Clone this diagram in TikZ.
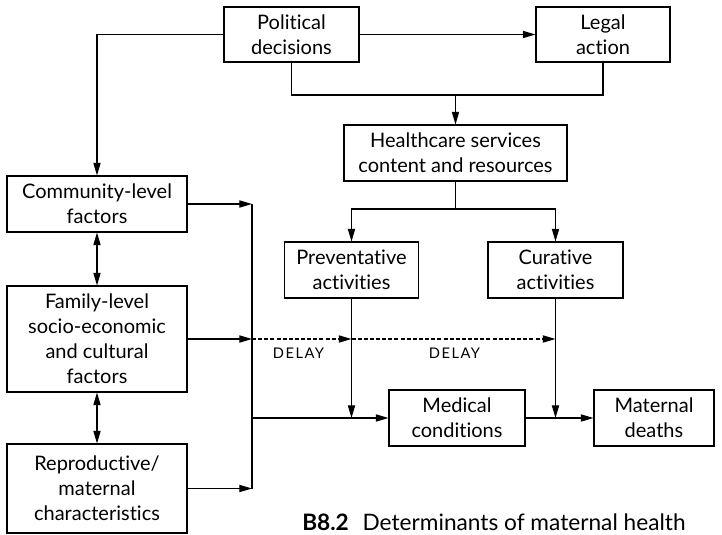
\documentclass[tikz,border=0pt]{standalone}
\usepackage{fontspec}
\setmainfont{Lato}[Ligatures=NoCommon,RawFeature={-liga}]
\usetikzlibrary{arrows.meta,calc}
\begin{document}
\begin{tikzpicture}[x=0.75pt,y=-0.75pt,
  boxnode/.style={draw,line width=0.8pt,inner sep=0pt,align=center,
    font=\fontsize{15}{18.75}\selectfont},
  arr/.style={-{Triangle[length=9.5pt,width=5.4pt]}},
  dbl/.style={{Triangle[length=9.5pt,width=5.4pt]}-{Triangle[length=9.5pt,width=5.4pt]}},
  conn/.style={line width=0.85pt},
  dashline/.style={dash pattern=on 3pt off 1.6pt},
  delaylabel/.style={font=\fontsize{11}{12}\selectfont\addfontfeatures{LetterSpace=10}}]
\useasboundingbox (0,0) rectangle (722,535);
% boxes
\node[boxnode,minimum width={135*0.75pt},minimum height={55*0.75pt}] (pol) at (291.5,34.5) {Political\\decisions};
\node[boxnode,minimum width={134*0.75pt},minimum height={55*0.75pt}] (legal) at (603,34.5) {Legal\\action};
\node[boxnode,minimum width={223*0.75pt},minimum height={56*0.75pt}] (health) at (455.5,153) {Healthcare services\\content and resources};
\node[boxnode,minimum width={134*0.75pt},minimum height={56*0.75pt}] (prev) at (351.5,270) {Preventative\\activities};
\node[boxnode,minimum width={135*0.75pt},minimum height={56*0.75pt}] (cur) at (555.5,270) {Curative\\activities};
\node[boxnode,minimum width={180*0.75pt},minimum height={56*0.75pt}] (comm) at (97,204) {Community-level\\factors};
\node[boxnode,minimum width={180*0.75pt},minimum height={106*0.75pt}] (fam) at (97,339) {Family-level\\socio-economic\\and cultural\\factors};
\node[boxnode,minimum width={180*0.75pt},minimum height={89*0.75pt}] (repro) at (97,488.5) {Reproductive/\\maternal\\characteristics};
\node[boxnode,minimum width={136*0.75pt},minimum height={56*0.75pt}] (med) at (457,418) {Medical\\conditions};
\node[boxnode,minimum width={120*0.75pt},minimum height={56*0.75pt}] (mat) at (654,418) {Maternal\\deaths};
% junction coordinates
\coordinate (jt) at (455.5,95);
\coordinate (jh) at (455.5,209);
\coordinate (ctop) at (252,204);
\coordinate (cfam) at (252,339);
\coordinate (cbot) at (252,488.5);
\coordinate (cmed) at (252,418);
\coordinate (dprev) at (prev.south |- cfam);
\coordinate (dcur) at (cur.south |- cfam);
\coordinate (mprev) at (prev.south |- med.west);
\coordinate (mcur) at (cur.south |- med.west);
% connectors
\draw[conn,arr] (pol.west) -| (comm.north);
\draw[conn,arr] (pol.east) -- (legal.west);
\draw[conn] (pol.south) |- (jt) -| (legal.south);
\draw[conn,arr] (jt) -- (health.north);
\draw[conn] (health.south) -- (jh);
\draw[conn,arr] (jh) -| (prev.north);
\draw[conn,arr] (jh) -| (cur.north);
\draw[conn] (ctop) -- (cbot);
\draw[conn,arr] (comm.east) -- (ctop);
\draw[conn,arr] (fam.east) -- (cfam);
\draw[conn,arr] (repro.east) -- (cbot);
\draw[conn,arr] (cmed) -- (med.west);
\draw[conn,dashline,arr] (cfam) -- (dprev);
\draw[conn,dashline,arr] (dprev) -- (dcur);
\draw[conn,arr] (prev.south) -- (mprev);
\draw[conn,arr] (cur.south) -- (mcur);
\draw[conn,arr] (med.east) -- (mat.west);
\draw[conn,dbl] (comm.south) -- (fam.north);
\draw[conn,dbl] (fam.south) -- (repro.north);
% labels
\node[delaylabel] (d1) at (298.5,353) {DELAY};
\node[delaylabel] (d2) at (454.5,353) {DELAY};
\node[font=\fontsize{17}{18}\selectfont,anchor=west,inner sep=0pt] (cap) at (302,522) {\textbf{B8.2}\hspace{0.35em} Determinants of maternal health};
\end{tikzpicture}
\end{document}
